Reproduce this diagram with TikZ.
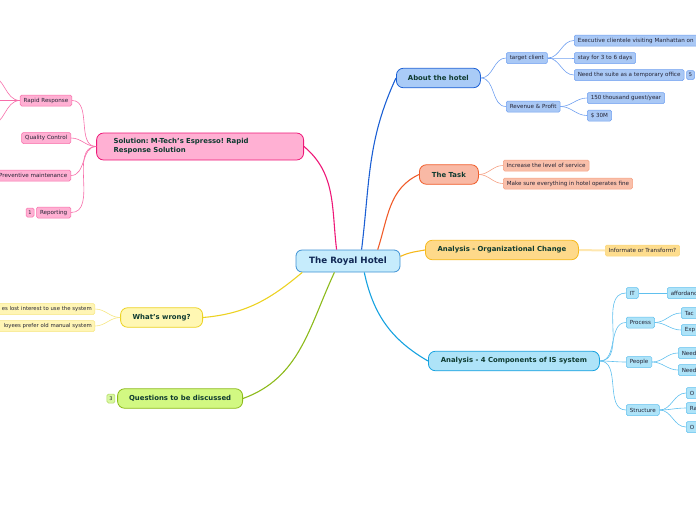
\documentclass[tikz,border=0pt]{standalone}
\usepackage{fontspec}
\setmainfont{DejaVu Sans}
\usetikzlibrary{positioning}
\frenchspacing

\definecolor{roottext}{RGB}{16,40,84}
\definecolor{maintext}{RGB}{14,58,48}
\definecolor{leaftext}{RGB}{35,35,52}
\definecolor{rootfill}{RGB}{198,236,252}
\definecolor{rootline}{RGB}{61,145,212}
% one set of colours per branch: fill, line, leaf fill, leaf edge
\definecolor{aboutfill}{RGB}{169,203,247}
\definecolor{aboutline}{RGB}{28,96,212}
\definecolor{aboutleaf}{RGB}{169,200,245}
\definecolor{aboutedge}{RGB}{112,160,240}
\definecolor{taskfill}{RGB}{249,185,165}
\definecolor{taskline}{RGB}{240,92,42}
\definecolor{taskleaf}{RGB}{249,191,170}
\definecolor{taskedge}{RGB}{245,160,130}
\definecolor{orgfill}{RGB}{254,217,138}
\definecolor{orgline}{RGB}{246,185,29}
\definecolor{orgleaf}{RGB}{254,221,142}
\definecolor{orgedge}{RGB}{251,214,120}
\definecolor{isfill}{RGB}{174,227,248}
\definecolor{isline}{RGB}{22,162,224}
\definecolor{isleaf}{RGB}{174,227,248}
\definecolor{isedge}{RGB}{96,192,238}
\definecolor{solfill}{RGB}{255,176,211}
\definecolor{solline}{RGB}{238,24,120}
\definecolor{solleaf}{RGB}{255,176,211}
\definecolor{soledge}{RGB}{247,110,170}
\definecolor{wrongfill}{RGB}{255,247,179}
\definecolor{wrongline}{RGB}{236,210,34}
\definecolor{wrongleaf}{RGB}{255,245,181}
\definecolor{wrongedge}{RGB}{246,230,130}
\definecolor{questfill}{RGB}{210,248,130}
\definecolor{questline}{RGB}{140,186,26}
\definecolor{questleaf}{RGB}{216,248,160}
\definecolor{questedge}{RGB}{176,216,96}

\tikzset{
    rootbox/.style={
        rectangle,
        rounded corners=6pt,
        draw=rootline, line width=0.8pt,
        fill=rootfill,
        text=roottext,
        font=\bfseries\fontsize{8.7}{10}\selectfont,
        minimum width=104pt,
        minimum height=22pt
    },
    main/.style={
        rectangle,
        rounded corners=7pt,
        draw=#1line, line width=0.8pt,
        fill=#1fill,
        text=maintext,
        font=\bfseries\fontsize{6.9}{9}\selectfont,
        minimum height=19.5pt,
        inner xsep=6pt
    },
    leaf/.style={
        rectangle,
        rounded corners=1.5pt,
        draw=#1edge, line width=0.5pt,
        fill=#1leaf,
        text=leaftext,
        font=\fontsize{5.6}{6.5}\selectfont,
        minimum height=11pt,
        inner xsep=3.5pt, inner ysep=1pt
    },
    badge/.style={
        rectangle,
        rounded corners=1.5pt,
        draw=#1edge, line width=0.5pt,
        fill=#1leaf,
        text=leaftext,
        font=\fontsize{5}{6}\selectfont,
        minimum width=8pt, minimum height=9pt,
        inner sep=0pt
    },
    branch/.style={draw=#1line, line width=1.1pt},
    twig/.style={draw=#1edge, line width=0.6pt}
}

\begin{document}
\begin{tikzpicture}[x=1pt, y=1pt,
            cutright/.style={text width=#1, align=left},
            cutleft/.style={text width=#1, align=right, font=\fontsize{5.35}{6.5}\selectfont, inner xsep=3pt}]
    \useasboundingbox (0,0) rectangle (696,-520);
    \clip (0,0) rectangle (696,-520);

    \node[rootbox] (hotel) at (348,-261) {The Royal Hotel};

    % right side
    \node[main=about, anchor=west, minimum width=84pt] (about) at (396,-78) {About the hotel};
    \node[main=task, anchor=west, minimum width=59pt] (task) at (419,-174.5) {The Task};
    \node[main=org, anchor=west, minimum width=153pt] (org) at (425,-250) {Analysis - Organizational Change};
    \node[main=is, anchor=west, minimum width=171pt] (is) at (428,-361) {Analysis - 4 Components of IS system};

    % left side
    \node[main=sol, anchor=east, text width=173pt, align=left, inner xsep=17pt,
          minimum height=27pt] (sol) at (304,-146.5)
          {Solution: M-Tech's Espresso! Rapid\\Response Solution};
    \node[main=wrong, anchor=east, minimum width=82pt] (wrong) at (203,-317.5) {What's wrong?};
    \node[main=quest, anchor=east, minimum width=125pt] (quest) at (243,-398.5) {Questions to be discussed};
    \node[badge=quest, left=2pt of quest] (questbadge) {3};

    \draw[branch=sol] (hotel.135) to[out=97,in=-40] (sol.east);
    \draw[branch=about] (hotel.40) to[out=83,in=-115] (about.west);
    \draw[branch=task] (hotel.21) to[out=72,in=-155] (task.west);
    \draw[branch=org] (hotel.5) to[out=25,in=190] (org.west);
    \draw[branch=wrong] (hotel.194) to[out=-140,in=5] (wrong.east);
    \draw[branch=quest] (hotel.220) to[out=-115,in=20] (quest.east);
    \draw[branch=is] (hotel.325) to[out=-78,in=150] (is.west);

    % about the hotel
    \node[leaf=about, anchor=west] (client) at (506,-58) {target client};
    \node[leaf=about, anchor=west] (revenue) at (506,-106.5) {Revenue \& Profit};
    \node[leaf=about, anchor=west, cutright=150pt] (exec) at (574,-40.5) {Executive clientele visiting Manhattan on b};
    \node[leaf=about, anchor=west] (stay) at (574,-58) {stay for 3 to 6 days};
    \node[leaf=about, anchor=west] (suite) at (574,-75) {Need the suite as a temporary office};
    \node[badge=about, right=2pt of suite] (suitebadge) {5};
    \node[leaf=about, anchor=west] (guests) at (587,-98) {150 thousand guest/year};
    \node[leaf=about, anchor=west] (thirty) at (587,-115.5) {\$ 30M};

    \draw[twig=about] (about.east) to[out=0,in=180] (client.west);
    \draw[twig=about] (about.east) to[out=0,in=180] (revenue.west);
    \draw[twig=about] (client.east) to[out=0,in=180] (exec.west);
    \draw[twig=about] (client.east) to[out=0,in=180] (stay.west);
    \draw[twig=about] (client.east) to[out=0,in=180] (suite.west);
    \draw[twig=about] (revenue.east) to[out=0,in=180] (guests.west);
    \draw[twig=about] (revenue.east) to[out=0,in=180] (thirty.west);

    % the task
    \node[leaf=task, anchor=west] (service) at (503,-165.5) {Increase the level of service};
    \node[leaf=task, anchor=west] (operates) at (503,-183.5) {Make sure everything in hotel operates fine};

    \draw[twig=task] (task.east) to[out=0,in=180] (service.west);
    \draw[twig=task] (task.east) to[out=0,in=180] (operates.west);

    % organizational change
    \node[leaf=org, anchor=west] (informate) at (605,-250.5) {Informate or Transform?};
    \draw[draw=orgleaf!70!white, line width=2pt] (org.east) -- (informate.west);

    % 4 components
    \node[leaf=is, anchor=west] (it) at (626,-293) {IT};
    \node[leaf=is, anchor=west, cutright=40pt] (afford) at (667,-293) {affordanc};
    \node[leaf=is, anchor=west] (process) at (626,-322.5) {Process};
    \node[leaf=is, anchor=west, cutright=40pt] (tac) at (681,-313) {Tac};
    \node[leaf=is, anchor=west, cutright=40pt] (exp) at (681,-330) {Exp};
    \node[leaf=is, anchor=west] (people) at (626,-362) {People};
    \node[leaf=is, anchor=west, cutright=40pt] (needa) at (678,-353) {Need};
    \node[leaf=is, anchor=west, cutright=40pt] (needb) at (678,-370) {Need};
    \node[leaf=is, anchor=west] (structure) at (626,-410) {Structure};
    \node[leaf=is, anchor=west, cutright=40pt] (oa) at (686,-393) {O};
    \node[leaf=is, anchor=west, cutright=40pt] (ra) at (686,-408) {Ra};
    \node[leaf=is, anchor=west, cutright=40pt] (ob) at (686,-427) {O};

    \draw[twig=is] (is.east) to[out=0,in=180] (it.west);
    \draw[twig=is] (is.east) to[out=0,in=180] (process.west);
    \draw[twig=is] (is.east) to[out=0,in=180] (people.west);
    \draw[twig=is] (is.east) to[out=0,in=180] (structure.west);
    \draw[twig=is] (it.east) -- (afford.west);
    \draw[twig=is] (process.east) to[out=0,in=180] (tac.west);
    \draw[twig=is] (process.east) to[out=0,in=180] (exp.west);
    \draw[twig=is] (people.east) to[out=0,in=180] (needa.west);
    \draw[twig=is] (people.east) to[out=0,in=180] (needb.west);
    \draw[twig=is] (structure.east) to[out=0,in=180] (oa.west);
    \draw[twig=is] (structure.east) to[out=0,in=180] (ra.west);
    \draw[twig=is] (structure.east) to[out=0,in=180] (ob.west);

    % solution
    \node[leaf=sol, anchor=east] (rapid) at (72,-100.5) {Rapid Response};
    \node[leaf=sol, anchor=east] (quality) at (71,-138) {Quality Control};
    \node[leaf=sol, anchor=east] (preventive) at (71,-175.5) {Preventive maintenance};
    \node[leaf=sol, anchor=east] (reporting) at (71,-212.5) {Reporting};
    \node[badge=sol, left=2pt of reporting] (reportbadge) {1};
    \coordinate (rapid one) at (-10,-76);
    \coordinate (rapid two) at (-10,-100.5);
    \coordinate (rapid three) at (-10,-125);

    \draw[twig=sol] (sol.west) to[out=180,in=0] (rapid.east);
    \draw[twig=sol] (sol.west) to[out=180,in=0] (quality.east);
    \draw[twig=sol] (sol.west) to[out=180,in=0] (preventive.east);
    \draw[twig=sol] (sol.west) to[out=180,in=0] (reporting.east);
    \draw[twig=sol] (rapid.west) to[out=180,in=0] (rapid one);
    \draw[twig=sol] (rapid.west) -- (rapid two);
    \draw[twig=sol] (rapid.west) to[out=180,in=0] (rapid three);

    % what's wrong
    \node[leaf=wrong, anchor=east, cutleft=120pt] (lost) at (95,-309) {es lost interest to use the system};
    \node[leaf=wrong, anchor=east, cutleft=120pt] (manual) at (95,-326) {loyees prefer old manual system};

    \draw[twig=wrong] (wrong.west) to[out=180,in=0] (lost.east);
    \draw[twig=wrong] (wrong.west) to[out=180,in=0] (manual.east);
\end{tikzpicture}
\end{document}
